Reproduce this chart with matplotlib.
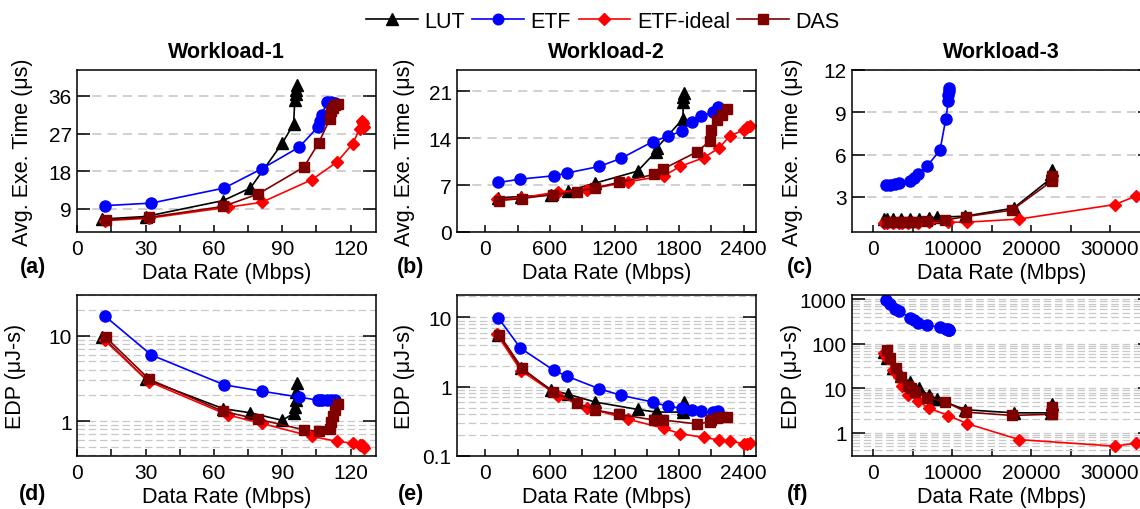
import matplotlib
matplotlib.use('Agg')
import matplotlib.pyplot as plt
from matplotlib.ticker import MultipleLocator, FixedLocator, FuncFormatter, NullFormatter, LogLocator
from matplotlib.lines import Line2D

plt.rcParams['font.family'] = ['Liberation Sans', 'DejaVu Sans']

# ---------------- data ----------------
series_names = ['LUT', 'ETF', 'ETF-ideal', 'DAS']
workload_titles = ['Workload-1', 'Workload-2', 'Workload-3']

# Workload-1
w1_lut_rate = [11, 30, 64, 76, 90, 95, 95.5, 96, 96, 96.5]
w1_lut_time = [6.6, 7.2, 11.0, 14.0, 24.7, 29.3, 35.0, 36.5, 37.5, 38.5]
w1_lut_edp = [9.7, 3.1, 1.4, 1.25, 1.02, 1.23, 1.45, 1.75, 2.2, 2.8]

w1_etf_rate = [12, 32.5, 64.5, 81, 97.5, 105.5, 106.5, 107.5, 109.5, 111.5, 113]
w1_etf_time = [9.8, 10.4, 14.0, 18.6, 23.8, 28.5, 30.0, 31.4, 34.6, 34.6, 34.2]
w1_etf_edp = [17.1, 5.95, 2.66, 2.24, 1.91, 1.76, 1.75, 1.76, 1.78, 1.79, 1.77]

w1_ideal_rate = [12, 31.5, 66, 81, 103, 114, 121, 124, 125, 125.5, 126]
w1_ideal_time = [6.2, 6.8, 9.4, 10.6, 16.0, 20.2, 24.6, 28.2, 30.0, 29.5, 28.5]
w1_ideal_edp = [8.8, 2.9, 1.18, 0.94, 0.66, 0.58, 0.55, 0.53, 0.52, 0.51, 0.49]

w1_das_rate = [12.5, 31.5, 64, 79.5, 99.5, 106, 111, 111.5, 112.5, 113, 114.5]
w1_das_time = [6.4, 7.0, 9.6, 12.6, 19.0, 24.8, 30.6, 32.5, 33.2, 33.8, 34.0]
w1_das_edp = [9.6, 3.1, 1.3, 1.05, 0.79, 0.76, 0.81, 0.98, 1.15, 1.35, 1.6]

# Workload-2
w2_lut_rate = [115, 330, 610, 765, 1020, 1415, 1585, 1595, 1835, 1840, 1840, 1845]
w2_lut_time = [5.1, 5.3, 5.5, 6.1, 7.3, 9.1, 12.0, 12.6, 16.9, 19.4, 20.2, 20.7]
w2_lut_edp = [5.6, 1.83, 0.9, 0.78, 0.6, 0.47, 0.43, 0.43, 0.43, 0.47, 0.52, 0.6]

w2_etf_rate = [120, 325, 635, 755, 1060, 1260, 1555, 1700, 1825, 1920, 2005, 2120, 2165]
w2_etf_time = [7.4, 7.9, 8.4, 8.8, 9.8, 11.0, 13.5, 14.3, 15.1, 16.5, 17.3, 17.9, 18.7]
w2_etf_edp = [9.8, 3.6, 1.72, 1.42, 0.93, 0.75, 0.60, 0.52, 0.49, 0.46, 0.44, 0.43, 0.45]

w2_ideal_rate = [105, 330, 675, 945, 1325, 1660, 1810, 2030, 2175, 2275, 2400, 2430, 2460]
w2_ideal_time = [4.9, 5.1, 6.0, 6.3, 7.5, 8.4, 9.8, 11.1, 12.6, 14.4, 15.2, 15.7, 15.9]
w2_ideal_edp = [5.7, 1.7, 0.74, 0.5, 0.34, 0.25, 0.21, 0.185, 0.17, 0.165, 0.15, 0.15, 0.155]

w2_das_rate = [130, 340, 625, 850, 1015, 1240, 1565, 1650, 1970, 2085, 2100, 2150, 2200, 2250]
w2_das_time = [4.7, 5.0, 5.6, 6.0, 6.6, 7.4, 8.6, 9.4, 12.0, 13.6, 15.2, 16.7, 17.5, 18.4]
w2_das_edp = [5.6, 1.85, 0.84, 0.58, 0.46, 0.40, 0.33, 0.33, 0.29, 0.31, 0.33, 0.35, 0.36, 0.36]

# Workload-3
w3_lut_rate = [1400, 1800, 2500, 3500, 4600, 5800, 7000, 8100, 11600, 17800, 22500, 22500, 22600]
w3_lut_time = [1.4, 1.4, 1.4, 1.4, 1.4, 1.42, 1.48, 1.55, 1.62, 2.2, 4.3, 4.6, 4.9]
w3_lut_edp = [65, 48, 28, 19, 14, 10, 7, 5.8, 3.3, 2.8, 2.8, 3.5, 4.4]

w3_etf_rate = [1600, 2100, 2700, 3300, 4700, 5100, 5700, 6850, 8450, 9200, 9500, 9500, 9550, 9550]
w3_etf_time = [3.85, 3.85, 3.9, 3.95, 4.1, 4.35, 4.6, 5.2, 6.3, 8.55, 9.8, 10.2, 10.5, 10.7]
w3_etf_edp = [980, 800, 620, 540, 380, 340, 300, 265, 235, 220, 210, 205, 200, 200]

w3_ideal_rate = [1300, 1700, 2500, 3200, 3700, 4400, 5700, 7000, 9500, 11900, 18500, 30600, 33300]
w3_ideal_time = [1.15, 1.15, 1.15, 1.15, 1.15, 1.15, 1.16, 1.18, 1.2, 1.2, 1.42, 2.45, 3.05]
w3_ideal_edp = [61, 48, 26, 18, 11, 7.2, 5.1, 3.6, 2.44, 1.6, 0.7, 0.5, 0.58]

w3_das_rate = [1800, 2100, 2900, 3500, 4350, 4750, 5300, 6850, 9100, 11800, 17550, 22600, 22650, 22700]
w3_das_time = [1.2, 1.2, 1.2, 1.2, 1.2, 1.2, 1.2, 1.25, 1.35, 1.6, 2.05, 4.1, 4.3, 4.5]
w3_das_edp = [73, 48, 28, 18, 11, 10, 8.1, 6.1, 5.0, 2.9, 2.45, 2.6, 3.0, 3.8]

time_yticks = [[9, 18, 27, 36], [0, 7, 14, 21], [3, 6, 9, 12]]
rate_xticks = [[0, 30, 60, 90, 120], [0, 600, 1200, 1800, 2400], [0, 10000, 20000, 30000]]
panel_labels = ['(a)', '(b)', '(c)', '(d)', '(e)', '(f)']

# ---------------- styling ----------------
workloads = [
    {'LUT': (w1_lut_rate, w1_lut_time, w1_lut_edp), 'ETF': (w1_etf_rate, w1_etf_time, w1_etf_edp),
     'ETF-ideal': (w1_ideal_rate, w1_ideal_time, w1_ideal_edp), 'DAS': (w1_das_rate, w1_das_time, w1_das_edp)},
    {'LUT': (w2_lut_rate, w2_lut_time, w2_lut_edp), 'ETF': (w2_etf_rate, w2_etf_time, w2_etf_edp),
     'ETF-ideal': (w2_ideal_rate, w2_ideal_time, w2_ideal_edp), 'DAS': (w2_das_rate, w2_das_time, w2_das_edp)},
    {'LUT': (w3_lut_rate, w3_lut_time, w3_lut_edp), 'ETF': (w3_etf_rate, w3_etf_time, w3_etf_edp),
     'ETF-ideal': (w3_ideal_rate, w3_ideal_time, w3_ideal_edp), 'DAS': (w3_das_rate, w3_das_time, w3_das_edp)},
]

styles = {
    'LUT': dict(color='black', marker='^', ms=8.5),
    'ETF': dict(color='#0000ff', marker='o', ms=8),
    'ETF-ideal': dict(color='#ff0000', marker='D', ms=6.5),
    'DAS': dict(color='#800000', marker='s', ms=7),
}

W, H = 1140, 510
FS = 15.5
fig = plt.figure(figsize=(W / 100, H / 100), dpi=100)


def px_axes(left, top, width, height):
    return fig.add_axes([left / W, 1 - (top + height) / H, width / W, height / H])


lefts = [77.3, 457.3, 852.3]
axw = 299
top_row = (71, 162)
bot_row = (296, 161)

xlims = [(0, 131.3), (-262, 2518), (-2660, 35230)]
xminor = [15, 300, 5000]
time_ylims = [(3.5, 42.2), (0, 24.2), (0.5, 12)]
edp_ylims = [(0.39, 30), (0.1, 21), (0.3, 1250)]
ylabel_x_top = [-0.148, -0.141, -0.164]
ylabel_x_bot = [-0.172, -0.141, -0.169]


def style_axes(ax, i):
    for sp in ax.spines.values():
        sp.set_linewidth(1.1)
        sp.set_color('black')
    ax.set_xlim(*xlims[i])
    ax.xaxis.set_major_locator(FixedLocator(rate_xticks[i]))
    ax.xaxis.set_minor_locator(MultipleLocator(xminor[i]))
    ax.tick_params(axis='x', which='both', direction='in', length=5, width=1.1,
                   top=False, bottom=True, labelsize=FS - 0.5, pad=5)
    ax.tick_params(axis='y', which='major', direction='in', length=9.5, width=1.1,
                   left=True, right=True, labelsize=FS - 0.5, pad=4)
    ax.set_xlabel('Data Rate (Mbps)', fontsize=FS, labelpad=3)


def plot_series(ax, wl, col):
    for name in series_names:
        rate, t, e = wl[name]
        st = styles[name]
        yv = t if col == 0 else e
        ax.plot(rate, yv, color=st['color'], marker=st['marker'], ms=st['ms'],
                lw=1.2, mec=st['color'], mfc=st['color'], clip_on=True)


for i in range(3):
    wl = workloads[i]
    # top: execution time
    ax = px_axes(lefts[i], top_row[0], axw, top_row[1])
    plot_series(ax, wl, 0)
    style_axes(ax, i)
    ax.set_ylim(*time_ylims[i])
    ax.yaxis.set_major_locator(FixedLocator(time_yticks[i]))
    ax.yaxis.grid(True, which='major', color='#c4c4c4', lw=1.1, linestyle=(0, (6, 4)))
    ax.set_axisbelow(True)
    ax.set_ylabel('Avg. Exe. Time (μs)', fontsize=FS)
    ax.yaxis.set_label_coords(ylabel_x_top[i], 0.5)
    ax.set_title(workload_titles[i], fontsize=FS, fontweight='bold', pad=9)

    # bottom: EDP
    ax2 = px_axes(lefts[i], bot_row[0], axw, bot_row[1])
    plot_series(ax2, wl, 1)
    style_axes(ax2, i)
    ax2.set_yscale('log')
    ax2.set_ylim(*edp_ylims[i])
    ax2.yaxis.set_major_locator(LogLocator(base=10, numticks=10))
    ax2.yaxis.set_minor_locator(LogLocator(base=10, subs=range(2, 10), numticks=20))
    ax2.yaxis.set_major_formatter(FuncFormatter(lambda v, p: '{:g}'.format(v)))
    ax2.yaxis.set_minor_formatter(NullFormatter())
    ax2.tick_params(axis='y', which='minor', length=0)
    ax2.yaxis.grid(True, which='both', color='#c8c8c8', lw=0.9, linestyle=(0, (6, 3)))
    ax2.set_axisbelow(True)
    ax2.set_ylabel('EDP (μJ-s)', fontsize=FS)
    ax2.yaxis.set_label_coords(ylabel_x_bot[i], 0.5)

# panel labels
label_pos = [(33, 268), (411, 268), (800, 268), (33, 495), (411, 495), (798, 495)]
for lab, (x, y) in zip(panel_labels, label_pos):
    fig.text(x / W, 1 - y / H, lab, fontsize=FS, fontweight='bold', ha='center', va='center')

# legend
handles = [Line2D([], [], color=styles[n]['color'], marker=styles[n]['marker'],
                  ms=styles[n]['ms'] * 0.95, lw=1.2) for n in series_names]
fig.legend(handles, series_names, loc='center', bbox_to_anchor=(603 / W, 1 - 22 / H),
           ncol=4, frameon=False, fontsize=FS, handlelength=2.4, handletextpad=0.3,
           columnspacing=0.35, borderpad=0)

fig.savefig('out.png', dpi=100)
